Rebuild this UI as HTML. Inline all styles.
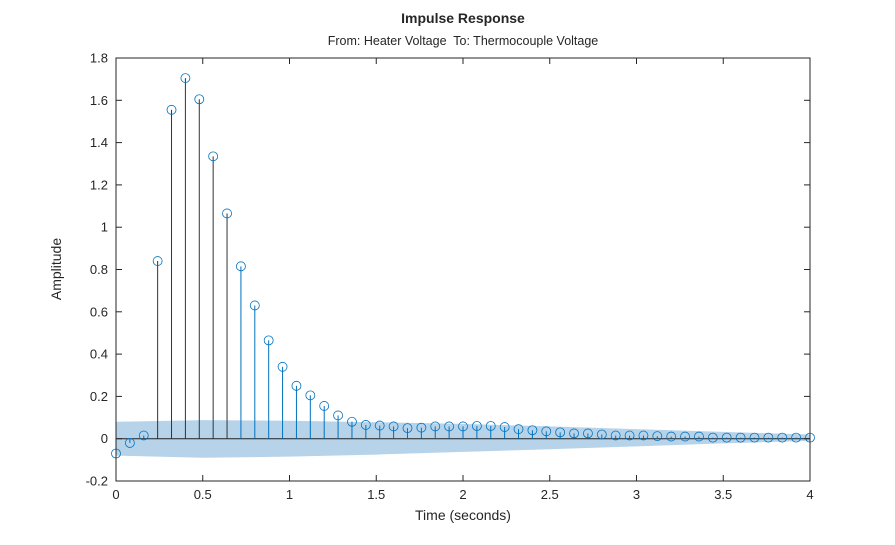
<!DOCTYPE html>
<html><head><meta charset="utf-8"><style>
body{margin:0;background:#fff;font-family:"Liberation Sans",Arial,sans-serif}
svg text{font-family:"Liberation Sans",Arial,sans-serif}
</style></head><body>
<svg id="c" width="895" height="540"></svg>
<script>
const times=[0,0.08,0.16,0.24,0.32,0.40,0.48,0.56,0.64,0.72,0.80,0.88,0.96,1.04,1.12,1.20,1.28,1.36,1.44,1.52,1.60,1.68,1.76,1.84,1.92,2.00,2.08,2.16,2.24,2.32,2.40,2.48,2.56,2.64,2.72,2.80,2.88,2.96,3.04,3.12,3.20,3.28,3.36,3.44,3.52,3.60,3.68,3.76,3.84,3.92,4.00];
const amps=[-0.07,-0.02,0.015,0.84,1.555,1.705,1.605,1.335,1.065,0.815,0.63,0.465,0.34,0.25,0.205,0.155,0.11,0.08,0.065,0.062,0.058,0.05,0.052,0.058,0.058,0.058,0.06,0.06,0.055,0.045,0.04,0.035,0.03,0.025,0.025,0.02,0.015,0.015,0.015,0.012,0.01,0.01,0.01,0.005,0.005,0.005,0.005,0.005,0.005,0.005,0.005];
const bandT=[0,0.5,1,1.5,2,2.5,3,3.5,4];
const bandHi=[0.08,0.088,0.085,0.078,0.07,0.058,0.045,0.032,0.02];
const bandLo=[-0.08,-0.09,-0.085,-0.075,-0.062,-0.05,-0.036,-0.022,-0.01];
const xTicks=[0,0.5,1,1.5,2,2.5,3,3.5,4];
const yTicks=[-0.2,0,0.2,0.4,0.6,0.8,1,1.2,1.4,1.6,1.8];
const L=116,R=810,T=58,B=481;
const X=v=>L+(v-0)/4*(R-L), Y=v=>B-(v+0.2)/2.0*(B-T);
const s=document.getElementById('c'),NS='http://www.w3.org/2000/svg';
function el(t,a,txt){const e=document.createElementNS(NS,t);for(const k in a)e.setAttribute(k,a[k]);if(txt!=null)e.textContent=txt;s.appendChild(e);return e;}
let bg=el('rect',{x:L,y:T,width:R-L,height:B-T,fill:'#fff'});


let d='M'+bandT.map((t,i)=>X(t)+','+Y(bandHi[i])).join('L')+'L'+bandT.slice().reverse().map((t,i)=>X(t)+','+Y(bandLo[bandLo.length-1-i])).join('L')+'Z';
let band=el('path',{d:d,fill:'#b6d3ea',stroke:'none'});


let zl=el('line',{x1:L,x2:R,y1:Y(0),y2:Y(0),stroke:'#222','stroke-width':1});


times.forEach((t,i)=>{
 const x=X(t),y=Y(amps[i]);
 const col=(amps[i]>0.9||(t>=0.24&&t<=0.64))?'#333':'#0072BD';
 let st=el('line',{x1:x,x2:x,y1:Y(0),y2:y,stroke:col,'stroke-width':1});
 
 
 let m=el('circle',{cx:x,cy:y,r:4.5,fill:'none',stroke:'#0072BD','stroke-width':0.8});
 
 
});
let fr=el('rect',{x:L,y:T,width:R-L,height:B-T,fill:'none',stroke:'#262626','stroke-width':1});


xTicks.forEach(v=>{const x=X(v);
 el('line',{x1:x,x2:x,y1:B,y2:B-6,stroke:'#262626'});el('line',{x1:x,x2:x,y1:T,y2:T+6,stroke:'#262626'});
 let t=el('text',{x:x,y:B+18,'text-anchor':'middle','font-size':13,fill:'#262626'},String(v));
 
 });
yTicks.forEach(v=>{const y=Y(v);
 el('line',{x1:L,x2:L+6,y1:y,y2:y,stroke:'#262626'});el('line',{x1:R,x2:R-6,y1:y,y2:y,stroke:'#262626'});
 let t=el('text',{x:L-8,y:y+4.5,'text-anchor':'end','font-size':13,fill:'#262626'},String(+v.toFixed(1)));
 
 });
let tt=el('text',{x:463,y:23,'text-anchor':'middle','font-size':14,'font-weight':'bold',fill:'#262626'},'Impulse Response');


let st2=el('text',{x:463,y:45,'text-anchor':'middle','font-size':12.5,fill:'#262626'},'From: Heater Voltage\u00a0 To: Thermocouple Voltage');


let xl=el('text',{x:463,y:520,'text-anchor':'middle','font-size':14,fill:'#262626'},'Time (seconds)');


let yl=el('text',{x:61,y:269,'text-anchor':'middle','font-size':14,fill:'#262626',transform:'rotate(-90 61 269)'},'Amplitude');


</script>
</body></html>
